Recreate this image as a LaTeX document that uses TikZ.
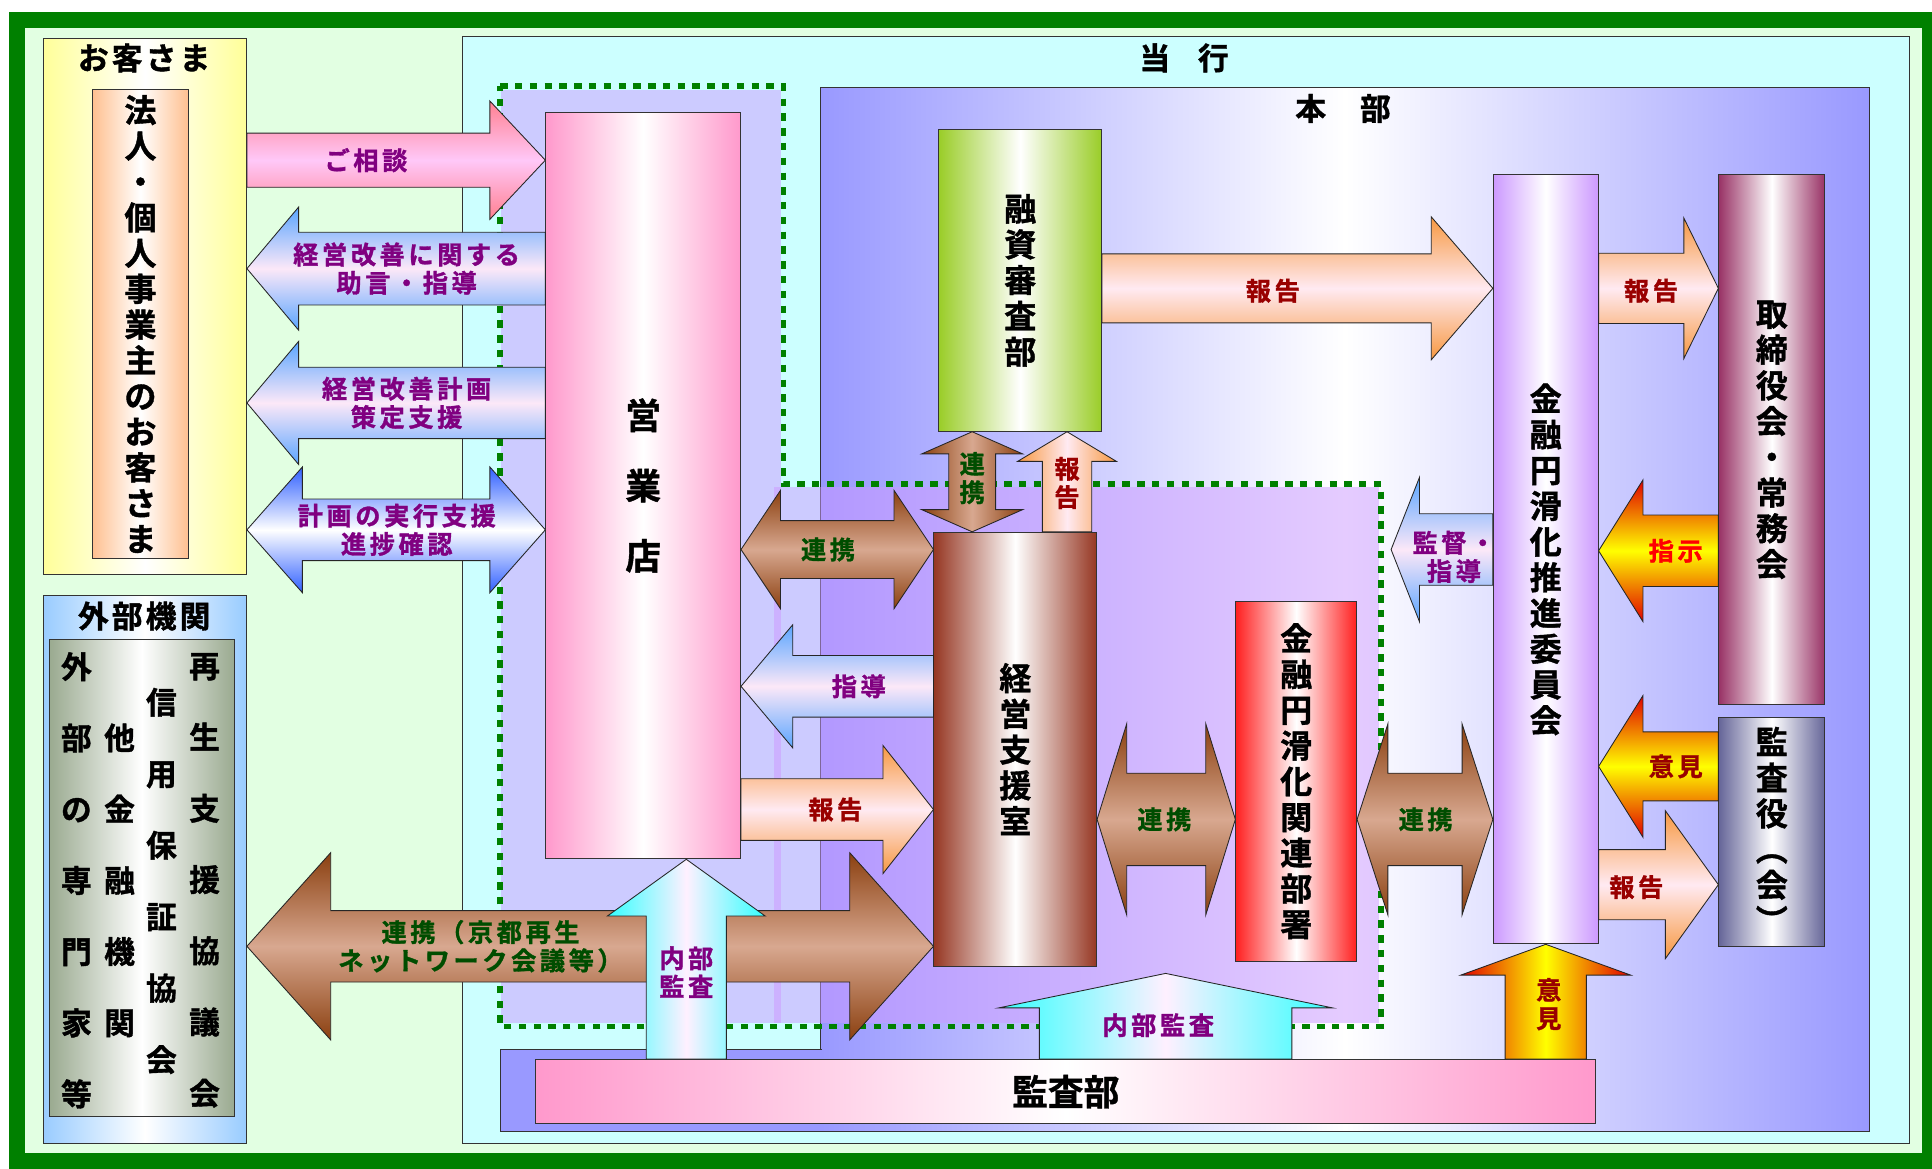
\documentclass[tikz,border=0pt]{standalone}
\usepackage{fontspec}
\setmainfont{Noto Sans CJK JP}[BoldFont={Noto Sans CJK JP Bold}]
\newfontfamily\boxfont{Noto Sans CJK JP Bold}[FakeBold=1.2]
\newfontfamily\ttlfont{Noto Sans CJK JP Bold}[FakeBold=1.2, LetterSpace=10]
\newfontfamily\labfont{Noto Sans CJK JP Bold}[FakeBold=1.2, LetterSpace=14]
\usetikzlibrary{calc}
\definecolor{frame}{HTML}{008000}
\definecolor{bgreen}{HTML}{E2FFE2}
\definecolor{cyanbg}{HTML}{CCFFFF}
\definecolor{honblue}{HTML}{9999FF}
\definecolor{grpfill}{HTML}{CC99FF}
\definecolor{labpurple}{HTML}{800080}
\definecolor{labgreen}{HTML}{004D00}
\definecolor{labred}{HTML}{990000}
\definecolor{labbright}{HTML}{FF0000}
\definecolor{kyakuc}{HTML}{FFFF99}
\definecolor{houjinc}{HTML}{FFC090}
\definecolor{gaibuc}{HTML}{99CCFF}
\definecolor{gaibuinc}{HTML}{9AAA90}
\definecolor{eigyoc}{HTML}{FF99CC}
\definecolor{yushic}{HTML}{9ACD28}
\definecolor{keieic}{HTML}{963723}
\definecolor{kanrenc}{HTML}{FF2020}
\definecolor{suishinc}{HTML}{CC99FF}
\definecolor{torishic}{HTML}{993366}
\definecolor{kansayc}{HTML}{666699}
\definecolor{pinkend}{HTML}{FF8090}
\definecolor{pinkmid}{HTML}{FFC8F8}
\definecolor{blueend}{HTML}{5AA5FF}
\definecolor{bluemid}{HTML}{FCE8F8}
\definecolor{deepend}{HTML}{3060FF}
\definecolor{brownend}{HTML}{8B4010}
\definecolor{brownmid}{HTML}{D8A890}
\definecolor{orangeend}{HTML}{F79840}
\definecolor{orangemid}{HTML}{FFEAF2}
\definecolor{fireend}{HTML}{E00000}
\definecolor{cyanend}{HTML}{33FFFF}
\definecolor{cyanmid}{HTML}{FFF0FF}
\newcommand{\onearrow}[6]{%
  \coordinate (p) at (#2); \coordinate (q) at (#3);
  \coordinate (hq) at ($(q)!#6!(p)$);
  \path[#1] ($(p)!#4!90:(q)$) -- ($(hq)!#4!90:(q)$) -- ($(hq)!#5!90:(q)$) -- (q)
    -- ($(hq)!#5!-90:(q)$) -- ($(hq)!#4!-90:(q)$) -- ($(p)!#4!-90:(q)$) -- cycle;}
\newcommand{\twoarrow}[6]{%
  \coordinate (p) at (#2); \coordinate (q) at (#3);
  \coordinate (hp) at ($(p)!#6!(q)$); \coordinate (hq) at ($(q)!#6!(p)$);
  \path[#1] (p) -- ($(hp)!#5!90:(q)$) -- ($(hp)!#4!90:(q)$) -- ($(hq)!#4!90:(q)$) -- ($(hq)!#5!90:(q)$) -- (q)
    -- ($(hq)!#5!-90:(q)$) -- ($(hq)!#4!-90:(q)$) -- ($(hp)!#4!-90:(q)$) -- ($(hp)!#5!-90:(q)$) -- cycle;}
\newcommand{\houjin}{法\\人\\・\\個\\人\\事\\業\\主\\の\\お\\客\\さ\\ま}
\newcommand{\suishin}{金\\融\\円\\滑\\化\\推\\進\\委\\員\\会}
\newcommand{\kanren}{金\\融\\円\\滑\\化\\関\\連\\部\\署}
\newcommand{\vparen}[1]{\rotatebox[origin=c]{-90}{#1}}
\tikzset{
  frm/.style={draw=black!80, line width=0.8pt, inner sep=0pt},
  colbox/.style={frm, left color=#1, right color=#1, middle color=white},
  grpline/.style={draw=frame, line width=4.5pt, dash pattern=on 6pt off 6pt},
  vtext/.style={align=center, font=\boxfont\fontsize{26}{29}\selectfont},
  ttl/.style={font=\ttlfont\fontsize{25}{28}\selectfont},
  lab/.style={align=center, font=\labfont\fontsize{20.5}{23}\selectfont},
  arr/.style={draw=black!85, line width=0.7pt},
  pinkh/.style={arr, top color=pinkend, bottom color=pinkend, middle color=pinkmid},
  blueh/.style={arr, top color=blueend, bottom color=blueend, middle color=bluemid},
  deeph/.style={arr, top color=deepend, bottom color=deepend, middle color=white},
  brownh/.style={arr, top color=brownend, bottom color=brownend, middle color=brownmid},
  brownv/.style={arr, left color=brownend, right color=brownend, middle color=brownmid},
  orangeh/.style={arr, top color=orangeend, bottom color=orangeend, middle color=orangemid},
  orangev/.style={arr, left color=orangeend, right color=orangeend, middle color=orangemid},
  fireh/.style={arr, top color=fireend, bottom color=fireend, middle color=yellow},
  firev/.style={arr, left color=fireend, right color=fireend, middle color=yellow},
  cyanv/.style={arr, left color=cyanend, right color=cyanend, middle color=cyanmid}
}
\begin{document}
\begin{tikzpicture}[x=1pt,y=-1pt]
  \useasboundingbox (0,0) rectangle (1568,948);
  \fill[white] (0,0) rectangle (1568,948);
  \draw[line width=13pt, draw=frame, fill=bgreen] (13.8,16.2) rectangle (1566.4,942.3);

  \node [frm, fill=cyanbg, minimum width=1175pt, minimum height=898pt] (tokou) at (962.5,479) {};
  \node [colbox=honblue, minimum width=851pt, minimum height=847pt] (honbu) at (1091.5,494.5) {};
  \fill[honblue] (667,852) rectangle (406,918);
  \draw[line width=0.8pt, draw=black!80] (667,852) -- (406,852) -- (406,918) -- (667,918);

  \fill[grpfill, opacity=0.5] (407,73) rectangle (634,830);
  \fill[grpfill, opacity=0.5] (628,395) rectangle (1119,830);
  \draw[grpline] (406,70) -- (636,70) -- (636,393) -- (1121,393) -- (1121,833) -- (406,833) -- cycle;

  \node [colbox=kyakuc, minimum width=165pt, minimum height=435pt] (kyaku) at (117.5,248.5) {};
  \node [colbox=houjinc, minimum width=78pt, minimum height=380pt, vtext] (houjin) at (114,263) {\houjin};
  \node [colbox=gaibuc, minimum width=165pt, minimum height=445pt] (gaibu) at (117.5,705.5) {};
  \node [colbox=gaibuinc, minimum width=150pt, minimum height=387pt] (gaibuin) at (115,712.5) {};
  \node [colbox=eigyoc, minimum width=158pt, minimum height=606pt, vtext, font=\boxfont\fontsize{29}{57}\selectfont] (eigyo) at (522,394) {営\\業\\店};
  \node [colbox=yushic, minimum width=132pt, minimum height=245pt, vtext] (yushi) at (828,227.5) {融\\資\\審\\査\\部};
  \node [colbox=keieic, minimum width=132pt, minimum height=352pt, vtext] (keiei) at (824,608) {経\\営\\支\\援\\室};
  \node [colbox=kanrenc, minimum width=98pt, minimum height=292pt, vtext] (kanren) at (1052,634) {\kanren};
  \node [colbox=suishinc, minimum width=85pt, minimum height=624pt, vtext] (suishin) at (1254.5,454) {\suishin};
  \node [colbox=torishic, minimum width=86pt, minimum height=430pt, vtext] (torishimari) at (1438,357) {取\\締\\役\\会\\・\\常\\務\\会};
  \node [colbox=kansayc, minimum width=86pt, minimum height=186pt, vtext] (kansayaku) at (1438,675) {監\\査\\役\\\vparen{（}\\会\\\vparen{）}};
  \node [colbox=eigyoc, minimum width=860pt, minimum height=52pt, font=\boxfont\fontsize{29}{30}\selectfont] (kansabu) at (865,886) {監査部};

  \coordinate (kantoku) at (1129,446);
  \coordinate (naibu) at (946,790);

  \onearrow{pinkh}{kyaku.east |- 0,130}{eigyo.west |- 0,130}{22pt}{48pt}{45pt}
  \onearrow{blueh}{eigyo.west |- 0,218}{kyaku.east |- 0,218}{29.5pt}{50pt}{42pt}
  \onearrow{blueh}{eigyo.west |- 0,327}{kyaku.east |- 0,327}{29pt}{50pt}{42pt}
  \twoarrow{deeph}{kyaku.east |- 0,430}{eigyo.west |- 0,430}{25pt}{51pt}{45pt}
  \twoarrow{brownh}{eigyo.east |- 0,446}{keiei.west |- 0,446}{23.5pt}{48pt}{32pt}
  \onearrow{blueh}{keiei.west |- 0,557}{eigyo.east |- 0,557}{25pt}{50pt}{42pt}
  \onearrow{orangeh}{eigyo.east |- 0,657}{keiei.west |- 0,657}{25pt}{52pt}{41pt}
  \twoarrow{brownh}{gaibu.east |- 0,768}{keiei.west |- 0,768}{29pt}{76pt}{68pt}
  \onearrow{cyanv}{kansabu.north -| 557,0}{eigyo.south -| 557,0}{32.5pt}{64pt}{46pt}
  \twoarrow{brownv}{yushi.south -| 789,0}{keiei.north -| 789,0}{19pt}{41pt}{18pt}
  \onearrow{orangev}{keiei.north -| 866,0}{yushi.south -| 866,0}{20pt}{40pt}{24pt}
  \onearrow{orangeh}{yushi.east |- 0,234}{suishin.west |- 0,234}{28pt}{58pt}{50pt}
  \onearrow{orangeh}{suishin.east |- 0,234}{torishimari.west |- 0,234}{28.5pt}{57pt}{28pt}
  \onearrow{fireh}{torishimari.west |- 0,447}{suishin.east |- 0,447}{29pt}{57.5pt}{36pt}
  \onearrow{blueh}{suishin.west |- 0,446}{kantoku}{29pt}{58.5pt}{23pt}
  \onearrow{fireh}{kansayaku.west |- 0,622}{suishin.east |- 0,622}{28pt}{57.5pt}{36pt}
  \onearrow{orangeh}{suishin.east |- 0,718}{kansayaku.west |- 0,718}{28.5pt}{60pt}{43pt}
  \onearrow{firev}{kansabu.north -| suishin.south}{suishin.south}{33pt}{69pt}{25pt}
  \onearrow{cyanv}{kansabu.north -| 946,0}{naibu}{102.5pt}{135.5pt}{28pt}
  \twoarrow{brownh}{keiei.east |- 0,665}{kanren.west |- 0,665}{37.5pt}{77.5pt}{24pt}
  \twoarrow{brownh}{kanren.east |- 0,665}{suishin.west |- 0,665}{37.5pt}{77.5pt}{25pt}

  \node [ttl] (tkyaku) at (117,47) {お客さま};
  \node [ttl] (tgaibu) at (117,500) {外部機関};
  \node [ttl] (ttokou) at (961,47) {当\hspace{0.9em}行};
  \node [ttl] (thonbu) at (1090,88) {本\hspace{1.1em}部};

  \node [vtext, font=\boxfont\fontsize{25}{57.8}\selectfont] (col1) at (62,714.5) {外\\部\\の\\専\\門\\家\\等};
  \node [vtext, font=\boxfont\fontsize{25}{57.8}\selectfont] (col2) at (97,714.5) {他\\金\\融\\機\\関};
  \node [vtext, font=\boxfont\fontsize{25}{58}\selectfont] (col3) at (131,715) {信\\用\\保\\証\\協\\会};
  \node [vtext, font=\boxfont\fontsize{25}{57.8}\selectfont] (col4) at (166,714.5) {再\\生\\支\\援\\協\\議\\会};

  \node [lab, text=labpurple] (lsodan) at (297,130) {ご相談};
  \node [lab, text=labpurple] (ljogen) at (330,218) {経営改善に関する\\助言・指導};
  \node [lab, text=labpurple] (lsakutei) at (330,327) {経営改善計画\\策定支援};
  \node [lab, text=labpurple] (ljikko) at (322,430) {計画の実行支援\\進捗確認};
  \node [lab, text=labgreen] (lrenkei1) at (672,446) {連携};
  \node [lab, text=labpurple] (lshido) at (697,557) {指導};
  \node [lab, text=labred] (lhokoku1) at (678,657) {報告};
  \node [lab, text=labgreen] (lrenkei2) at (390,768) {連携（京都再生\\ネットワーク会議等）};
  \node [lab, text=labpurple] (lnaibu1) at (557,789) {内部\\監査};
  \node [lab, text=labgreen] (lrenkei3) at (789,388) {連\\携};
  \node [lab, text=labred] (lhokoku2) at (866,392) {報\\告};
  \node [lab, text=labred] (lhokoku3) at (1033,236) {報告};
  \node [lab, text=labred] (lhokoku4) at (1340,236) {報告};
  \node [lab, text=labbright] (lshiji) at (1360,447) {指示};
  \node [lab, text=labpurple] (lkantoku) at (1180,452) {監督・\\指導};
  \node [lab, text=labred] (liken1) at (1360,622) {意見};
  \node [lab, text=labred] (lhokoku5) at (1328,720) {報告};
  \node [lab, text=labred] (liken2) at (1257,815) {意\\見};
  \node [lab, text=labpurple] (lnaibu2) at (940,832) {内部監査};
  \node [lab, text=labgreen] (lrenkei4) at (945,665) {連携};
  \node [lab, text=labgreen] (lrenkei5) at (1157,665) {連携};
\end{tikzpicture}
\end{document}
